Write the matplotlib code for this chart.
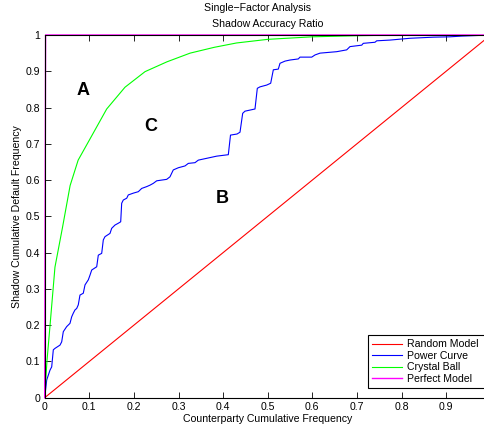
import numpy as np
import matplotlib
matplotlib.use("Agg")
import matplotlib.pyplot as plt
from matplotlib.ticker import FormatStrFormatter

plt.rcParams['font.family'] = ['Liberation Sans', 'DejaVu Sans']

# Data
random_x = [0.0, 1.0]
random_y = [0.0, 1.0]

power_x = [0.0, 0.0045, 0.0119, 0.0157, 0.0193, 0.0231, 0.0343, 0.0381, 0.0417, 0.0493,
           0.0567, 0.0605, 0.0641, 0.0679, 0.0717, 0.0753, 0.0791, 0.0865, 0.0904, 0.0978,
           0.1016, 0.1054, 0.1166, 0.1202, 0.1278, 0.1314, 0.1352, 0.1464, 0.1502, 0.1576,
           0.1650, 0.1704, 0.1726, 0.1762, 0.1839, 0.1874, 0.1987, 0.2099, 0.2175, 0.2287,
           0.2361, 0.2435, 0.2511, 0.2735, 0.2809, 0.2883, 0.2996, 0.3146, 0.3220, 0.3370,
           0.3444, 0.3632, 0.3857, 0.4117, 0.4166, 0.4312, 0.4379, 0.4439, 0.4491, 0.4715,
           0.4767, 0.4827, 0.4978, 0.5067, 0.5126, 0.5238, 0.5276, 0.5388, 0.5500, 0.5686,
           0.5724, 0.5987, 0.6061, 0.6173, 0.6547, 0.6771, 0.6845, 0.7108, 0.7143, 0.7406,
           0.7444, 0.7742, 0.8191, 0.8713, 0.9087, 0.9350, 1.0]
power_y = [0.0, 0.049, 0.076, 0.085, 0.132, 0.136, 0.145, 0.154, 0.182, 0.196,
           0.205, 0.223, 0.233, 0.242, 0.246, 0.256, 0.283, 0.288, 0.311, 0.325,
           0.338, 0.352, 0.361, 0.393, 0.398, 0.435, 0.444, 0.453, 0.467, 0.476,
           0.481, 0.485, 0.536, 0.545, 0.550, 0.559, 0.564, 0.568, 0.577, 0.582,
           0.586, 0.591, 0.598, 0.602, 0.609, 0.628, 0.634, 0.639, 0.646, 0.648,
           0.655, 0.660, 0.666, 0.670, 0.724, 0.727, 0.732, 0.784, 0.790, 0.796,
           0.853, 0.857, 0.862, 0.867, 0.904, 0.906, 0.922, 0.928, 0.931, 0.934,
           0.939, 0.939, 0.945, 0.950, 0.954, 0.959, 0.968, 0.972, 0.977, 0.980,
           0.984, 0.986, 0.991, 0.994, 0.995, 0.997, 1.0]

crystal_x = [0.0, 0.005, 0.012, 0.023, 0.040, 0.057, 0.075, 0.100, 0.139, 0.180,
             0.225, 0.274, 0.326, 0.380, 0.430, 0.500, 0.600, 0.700, 0.800, 1.0]
crystal_y = [0.0, 0.10, 0.20, 0.36, 0.47, 0.585, 0.655, 0.71, 0.796, 0.856,
             0.899, 0.926, 0.950, 0.966, 0.978, 0.988, 0.995, 0.998, 1.0, 1.0]

perfect_x = [0.0, 0.002, 1.0]
perfect_y = [0.0, 1.0, 1.0]

series_labels = ["Random Model", "Power Curve", "Crystal Ball", "Perfect Model"]
region_labels = ["A", "B", "C"]
region_x = [0.0866, 0.399, 0.2376]
region_y = [0.848, 0.550, 0.747]

x_ticks = [0, 0.1, 0.2, 0.3, 0.4, 0.5, 0.6, 0.7, 0.8, 0.9]
y_ticks = [0, 0.1, 0.2, 0.3, 0.4, 0.5, 0.6, 0.7, 0.8, 0.9, 1.0]

W, H = 485, 432
fig = plt.figure(figsize=(W / 100, H / 100), dpi=100)
fig.patch.set_facecolor('white')

left, right = 44.7, 490.7
top, bottom = 35.0, 397.7
ax = fig.add_axes([left / W, 1 - bottom / H, (right - left) / W, (bottom - top) / H])

fs = 7.6
lw = 0.8
l1, = ax.plot(random_x, random_y, color=(1, 0, 0), lw=lw, label=series_labels[0])
l2, = ax.plot(power_x, power_y, color=(0, 0, 1), lw=lw, label=series_labels[1])
l3, = ax.plot(crystal_x, crystal_y, color=(0, 1, 0), lw=lw, label=series_labels[2])
l4, = ax.plot(perfect_x, perfect_y, color=(1, 0, 1), lw=1.0, label=series_labels[3], clip_on=False)

for lab, xx, yy in zip(region_labels, region_x, region_y):
    ax.text(xx, yy, lab, fontsize=13, fontweight='bold', ha='center', va='center')

ax.set_xlim(0, 1)
ax.set_ylim(0, 1)
ax.set_xticks(x_ticks)
ax.set_yticks(y_ticks)
ax.xaxis.set_major_formatter(FormatStrFormatter('%g'))
ax.yaxis.set_major_formatter(FormatStrFormatter('%g'))
ax.tick_params(direction='in', length=4, width=0.6, labelsize=fs, pad=3,
               top=True, right=True)
for s in ax.spines.values():
    s.set_linewidth(0.8)
    s.set_color('black')

fig.text(257.5 / W, 1 - 8 / H, "Single\u2212Factor Analysis", fontsize=fs, ha='center', va='center')
fig.text(267.7 / W, 1 - 24 / H, "Shadow Accuracy Ratio", fontsize=fs, ha='center', va='center')
fig.text(267.7 / W, 1 - 419 / H, "Counterparty Cumulative Frequency", fontsize=fs, ha='center', va='center')
fig.text(17 / W, 1 - 216.4 / H, "Shadow Cumulative Default Frequency", fontsize=fs,
         ha='center', va='center', rotation=90)

leg = fig.legend(handles=[l1, l2, l3, l4], loc='upper left',
                 bbox_to_anchor=(368 / W, 1 - 392 / H, 128 / W, 57 / H),
                 bbox_transform=fig.transFigure, mode='expand',
                 fontsize=fs, frameon=True, fancybox=False, framealpha=1,
                 edgecolor='black', borderpad=0.4, handlelength=2.8,
                 handletextpad=0.5, labelspacing=0.15, borderaxespad=0)
leg.get_frame().set_linewidth(0.8)

fig.savefig("out.png", dpi=100, facecolor='white')
